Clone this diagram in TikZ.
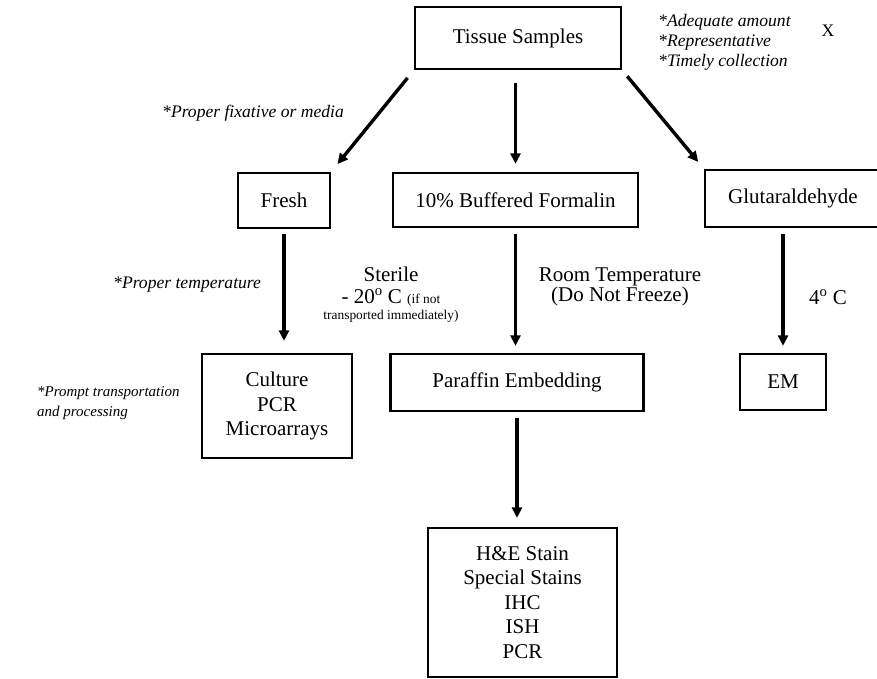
\documentclass[tikz,border=0pt]{standalone}
\usepackage{fontspec}
\setmainfont{Liberation Serif}
\usetikzlibrary{arrows.meta}
\tikzset{
	box/.style={draw, line width=2.3pt, inner sep=0pt, align=center, font=\fontsize{21}{24.5}\selectfont},
	flow/.style={line width=3.4pt, -{Triangle[length=10.5pt,width=10pt]}},
	note/.style={inner sep=0pt, align=left, font=\fontsize{17.6}{20}\selectfont\itshape},
	cond/.style={inner sep=0pt, align=center, font=\fontsize{21}{20}\selectfont},
}

\begin{document}
\begin{tikzpicture}[x=1pt,y=-1pt]
	\useasboundingbox (0,0) rectangle (877,678);
	\node[box, minimum width=206pt, minimum height=62pt] (T) at (518,38) {Tissue Samples};
		\node[box, minimum width=92pt, minimum height=55pt] (F) at (284,200.5) {Fresh};
		\node[box, minimum width=245pt, minimum height=54pt] (Fm) at (515.5,200) {10\% Buffered Formalin};
		\node[box, minimum height=57pt, anchor=west, align=left, inner xsep=23pt, text width=170pt] (G) at (704,198.5) {Glutaraldehyde};
		\draw[flow, shorten <=10pt, shorten >=10pt] (T.south west) -- (F.north east);
		\draw[flow, shorten <=13pt, shorten >=8pt] (T.south -| Fm.north) -- (Fm.north);
		\draw[flow, shorten <=8pt, shorten >=9pt] (T.south east) -- (G.north west);
		\node[box, minimum width=150pt, minimum height=104pt] (C) at (277,406) {Culture\\PCR\\Microarrays};
		\node[box, minimum width=253pt, minimum height=57pt] (P) at (517,382.5) {Paraffin Embedding};
		\node[box, minimum width=86pt, minimum height=56pt] (EM) at (783,382) {EM};
		\draw[flow, shorten <=5pt, shorten >=12pt] (F.south) -- (F.south |- C.north);
		\draw[flow, shorten <=6pt, shorten >=7pt] (Fm.south) -- (Fm.south |- P.north);
		\draw[flow, shorten <=6pt, shorten >=7pt] (EM.north |- G.south) -- (EM.north);
		\node[box, minimum width=189pt, minimum height=149pt] (HE) at (522.5,602.5) {H\&E Stain\\Special Stains\\IHC\\ISH\\PCR};
		\draw[flow, shorten <=6pt, shorten >=9pt] (P.south) -- (P.south |- HE.north);

		% remarks
		\node[note, anchor=west] (quality) at (658,42) {*Adequate amount\\*Representative\\*Timely collection};
		\node[inner sep=0pt, font=\fontsize{17.6}{20}\selectfont] (X) at (828,31) {X};
		\node[note, anchor=west] (fixative) at (162,113) {*Proper fixative or media};
		\node[note, anchor=west] (temperature) at (113,285) {*Proper temperature};
		\node[note, anchor=west, font=\fontsize{15}{20}\selectfont\itshape] (prompt) at (37,403) {*Prompt transportation\\and processing};
		\node[cond] (sterile) at (391,294.5) {Sterile\\[1.5pt]- 20\textsuperscript{o} C {\fontsize{13.4}{15}\selectfont (if not}\\[-4pt]{\fontsize{13.4}{15}\selectfont transported immediately)}};
		\node[cond] (room) at (620,287) {Room Temperature\\(Do Not Freeze)};
		\node[cond] (cold) at (828,297) {4\textsuperscript{o} C};
\end{tikzpicture}
\end{document}
